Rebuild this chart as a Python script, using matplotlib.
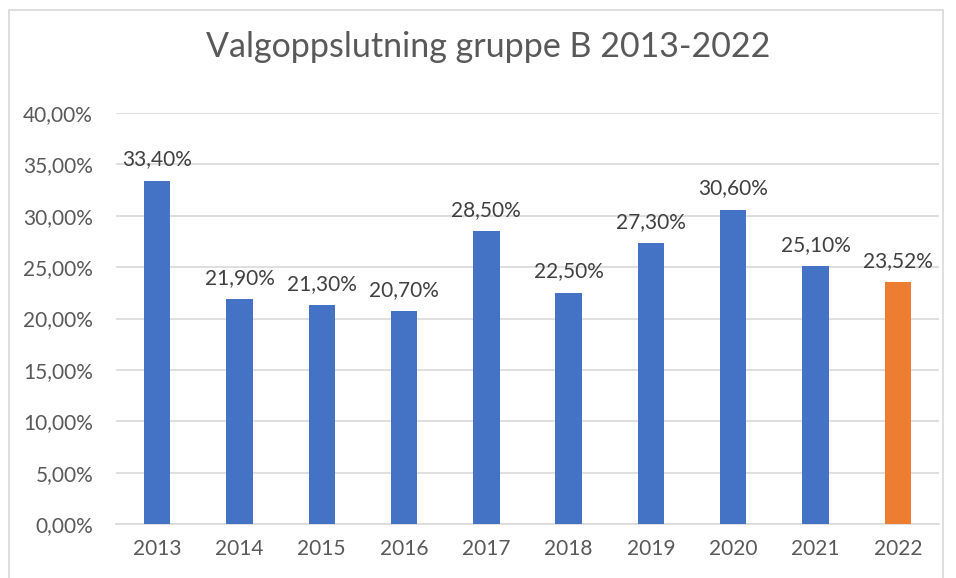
import matplotlib.pyplot as plt
from matplotlib.patches import Rectangle

plt.rcParams['font.family'] = ['Lato', 'DejaVu Sans']

years = ['2013', '2014', '2015', '2016', '2017', '2018', '2019', '2020', '2021', '2022']
share = [33.40, 21.90, 21.30, 20.70, 28.50, 22.50, 27.30, 30.60, 25.10, 23.52]
colors = ['#4472C4'] * 9 + ['#ED7D31']
yticks = [0, 5, 10, 15, 20, 25, 30, 35, 40]

fig = plt.figure(figsize=(9.56, 5.78), dpi=100)
## chart border like excel
fig.patches.append(Rectangle((9 / 956, -0.01), 934 / 956, 1 - 10 / 578 + 0.01,
                             transform=fig.transFigure, fill=False,
                             edgecolor='#d9d9d9', linewidth=1.2))
ax = fig.add_axes([116 / 956, 1 - 524 / 578, 823 / 956, 411 / 578])

x = range(len(years))
bars = ax.bar(x, share, width=0.32, color=colors, zorder=3)
for xi, v in zip(x, share):
    ax.text(xi, v + 1.1, f'{v:.2f}%'.replace('.', ','), ha='center', va='bottom',
            fontsize=15, color='#404040')

ax.set_xlim(-0.5, len(years) - 0.5)
ax.set_ylim(0, 40)
ax.set_yticks(yticks)
ax.set_yticklabels([f'{t:.2f}%'.replace('.', ',') for t in yticks])
ax.set_xticks(list(x))
ax.set_xticklabels(years)
ax.tick_params(length=0, labelsize=15, labelcolor='#595959')
ax.tick_params(axis='y', pad=16.5)
ax.tick_params(axis='x', pad=11)
ax.grid(axis='y', color='#d9d9d9', linewidth=1.2, zorder=0)
for s in ['top', 'right', 'left']:
    ax.spines[s].set_visible(False)
ax.spines['bottom'].set_color('#d9d9d9')
ax.spines['bottom'].set_linewidth(1.2)

fig.text(488 / 956, 1 - 47 / 578, 'Valgoppslutning gruppe B 2013-2022', ha='center',
         va='center', fontsize=24.5, color='#595959')

fig.savefig('out.png', dpi=100)
